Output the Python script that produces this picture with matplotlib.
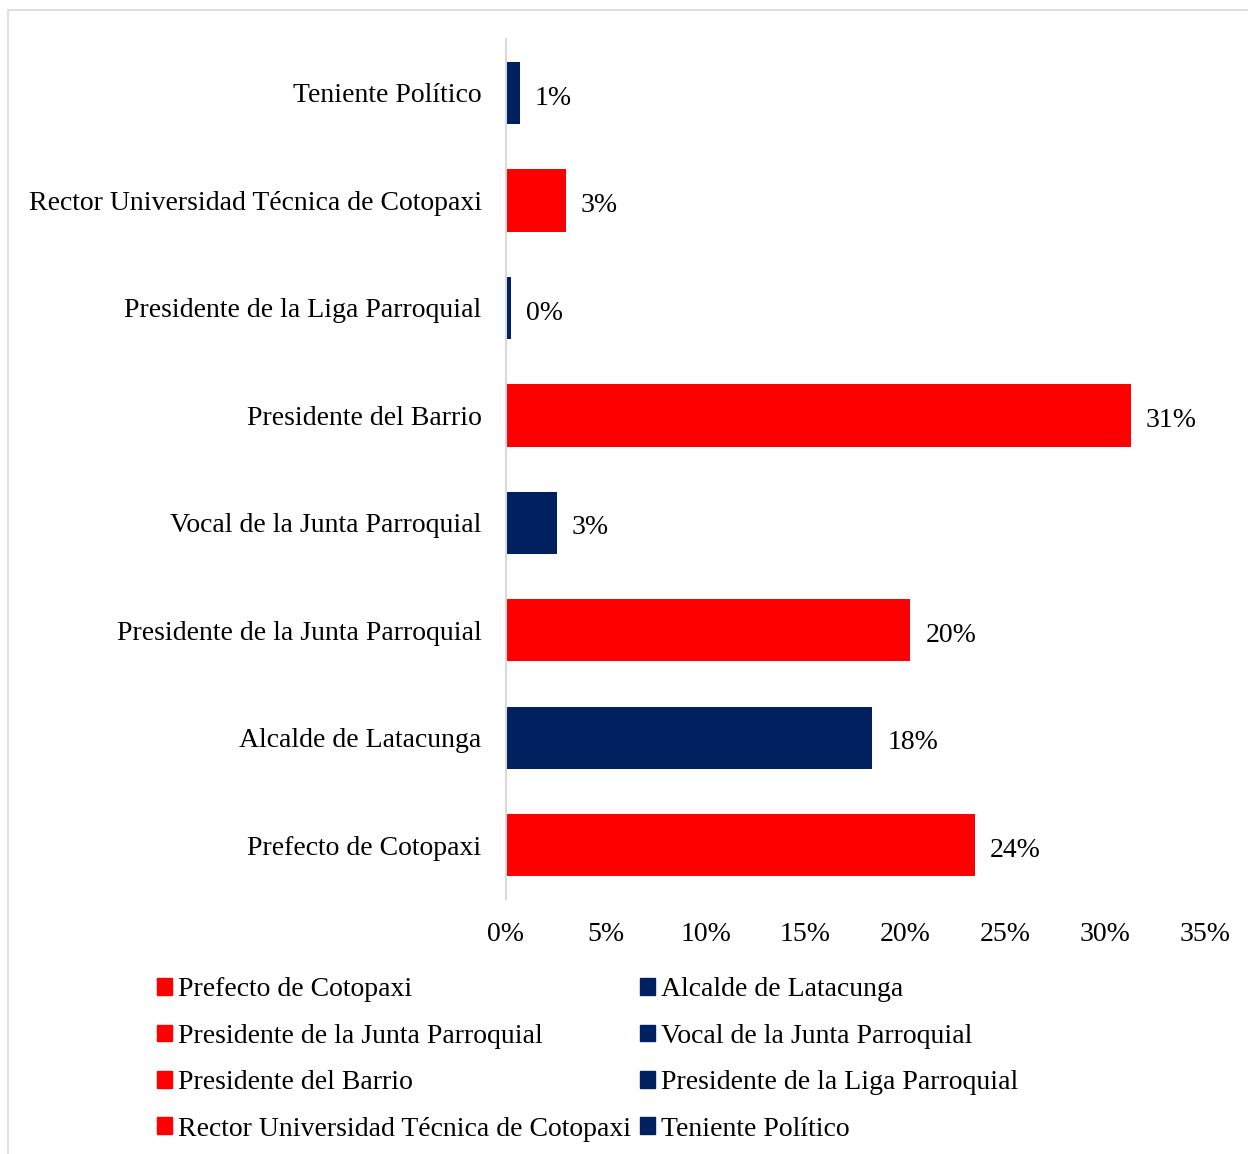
import numpy as np
import matplotlib.pyplot as plt
from matplotlib.patches import Rectangle, Patch

plt.rcParams['font.family'] = ['Liberation Serif', 'DejaVu Serif']

# datos (de abajo hacia arriba)
cargos = ['Prefecto de Cotopaxi', 'Alcalde de Latacunga',
          'Presidente de la Junta Parroquial', 'Vocal de la Junta Parroquial',
          'Presidente del Barrio', 'Presidente de la Liga Parroquial',
          'Rector Universidad Técnica de Cotopaxi', 'Teniente Político']
valores = [23.5, 18.35, 20.25, 2.55, 31.3, 0.25, 3.0, 0.7]
etiquetas = ['24%', '18%', '20%', '3%', '31%', '0%', '3%', '1%']
colores = ['#FF0000', '#002060', '#FF0000', '#002060',
           '#FF0000', '#002060', '#FF0000', '#002060']
ticks = [0, 5, 10, 15, 20, 25, 30, 35]

fig = plt.figure(figsize=(12.48, 11.54), dpi=100)
ax = fig.add_axes([0.4054, 0.221, 0.5601, 0.745])

y = np.arange(len(cargos))
ax.barh(y, valores, height=0.58, color=colores)
for yi, v, t in zip(y, valores, etiquetas):
    ax.text(v + 0.75, yi - 0.02, t, va='center_baseline', ha='left', fontsize=20)

ax.set_xlim(0, 35)
ax.set_ylim(-0.5, len(cargos) - 0.5)
ax.set_yticks(y)
ax.set_yticklabels(cargos, fontsize=20)
ax.set_xticks(ticks)
ax.set_xticklabels([f'{t}%' for t in ticks], fontsize=20)
ax.tick_params(axis='both', length=0)
ax.tick_params(axis='y', pad=17.5)
ax.tick_params(axis='x', pad=16.5)
for s in ['top', 'right', 'bottom']:
    ax.spines[s].set_visible(False)
ax.spines['left'].set_color('#D9D9D9')
ax.spines['left'].set_linewidth(1.5)

# leyenda en filas (orden del gráfico original)
handles = [Patch(color=c, label=l) for c, l in zip(colores, cargos)]
orden = [0, 2, 4, 6, 1, 3, 5, 7]
fig.legend([handles[i] for i in orden], [cargos[i] for i in orden],
           ncol=2, loc='upper left', bbox_to_anchor=(0.1258, 0.153),
           frameon=False, fontsize=20, handlelength=0.54, handleheight=0.54,
           handletextpad=0.22, columnspacing=0.32, labelspacing=0.77,
           borderaxespad=0, borderpad=0)

fig.patches.append(Rectangle((0.0064, -0.01), 1.1, 1.0013,
                             transform=fig.transFigure, fill=False,
                             edgecolor='#D9D9D9', linewidth=1.2))

fig.savefig('out.png')
